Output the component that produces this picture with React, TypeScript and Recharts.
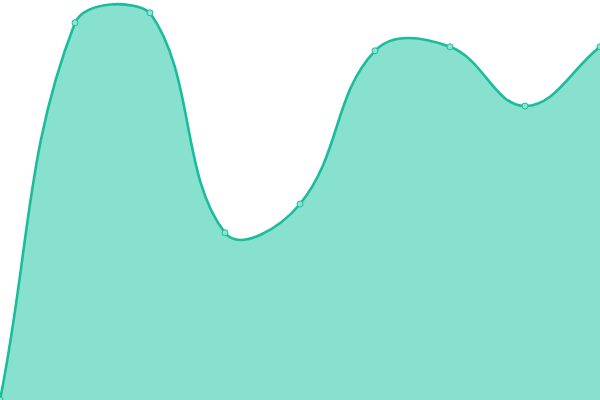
import React from "react";
import { AreaChart, Area, XAxis, YAxis } from "recharts";

const WIDTH = 600;
const HEIGHT = 400;
const TENSION = 0.4;

// point labels (no visible ticks in the reference)
const categories = ["P1", "P2", "P3", "P4", "P5", "P6", "P7", "P8", "P9"];
const values = [0, 94.3, 96.8, 41.8, 49, 87.3, 88.3, 73.5, 88.3];

const data = categories.map((name, i) => ({ name, value: values[i] }));

type Pt = { x: number; y: number };

const cap = (v: number, min: number, max: number) => Math.max(Math.min(v, max), min);
const inArea = (p: Pt) =>
  p.x >= -0.5 && p.x <= WIDTH + 0.5 && p.y >= -0.5 && p.y <= HEIGHT + 0.5;

// tension spline, control points weighted by segment length and kept inside the plot
const tensionCurve = (context: any) => {
  let pts: Pt[] = [];
  let line: number = NaN;
  return {
    areaStart() {
      line = 0;
    },
    areaEnd() {
      line = NaN;
    },
    lineStart() {
      pts = [];
    },
    lineEnd() {
      const n = pts.length;
      if (n > 0) {
        if (line) context.lineTo(pts[0].x, pts[0].y);
        else context.moveTo(pts[0].x, pts[0].y);
        const cps = pts.map((cur, i) => {
          const prev = pts[i - 1] || cur;
          const next = pts[i + 1] || cur;
          const d01 = Math.hypot(cur.x - prev.x, cur.y - prev.y);
          const d12 = Math.hypot(next.x - cur.x, next.y - cur.y);
          let s01 = d01 / (d01 + d12);
          let s12 = d12 / (d01 + d12);
          if (isNaN(s01)) s01 = 0;
          if (isNaN(s12)) s12 = 0;
          const fa = TENSION * s01;
          const fb = TENSION * s12;
          return {
            px: cur.x - fa * (next.x - prev.x),
            py: cur.y - fa * (next.y - prev.y),
            nx: cur.x + fb * (next.x - prev.x),
            ny: cur.y + fb * (next.y - prev.y),
          };
        });
        cps.forEach((c, i) => {
          if (!inArea(pts[i])) return;
          if (i > 0 && inArea(pts[i - 1])) {
            c.px = cap(c.px, 0, WIDTH);
            c.py = cap(c.py, 0, HEIGHT);
          }
          if (i < n - 1 && inArea(pts[i + 1])) {
            c.nx = cap(c.nx, 0, WIDTH);
            c.ny = cap(c.ny, 0, HEIGHT);
          }
        });
        for (let i = 1; i < n; i++) {
          context.bezierCurveTo(cps[i - 1].nx, cps[i - 1].ny, cps[i].px, cps[i].py, pts[i].x, pts[i].y);
        }
      }
      if (line || (line !== 0 && n === 1)) context.closePath();
      line = 1 - line;
    },
    point(x: number, y: number) {
      pts.push({ x: +x, y: +y });
    },
  };
};

const App: React.FC = () => {
  return (
    <div style={{ width: WIDTH, height: HEIGHT }}>
      <style>{`body{margin:0}`}</style>
      <AreaChart width={WIDTH} height={HEIGHT} data={data} margin={{ top: 0, right: 0, left: 0, bottom: 0 }}>
        <XAxis dataKey="name" hide />
        <YAxis domain={[0, 100]} hide />
        <Area
          type={tensionCurve as any}
          dataKey="value"
          stroke="#1abc9c"
          strokeWidth={2.6}
          fill="#88e0cf"
          fillOpacity={1}
          dot={{ r: 3, fill: "#8ee3d3", stroke: "#1abc9c", strokeWidth: 1 }}
          activeDot={false}
          isAnimationActive={false}
        />
      </AreaChart>
    </div>
  );
};

export default App;
